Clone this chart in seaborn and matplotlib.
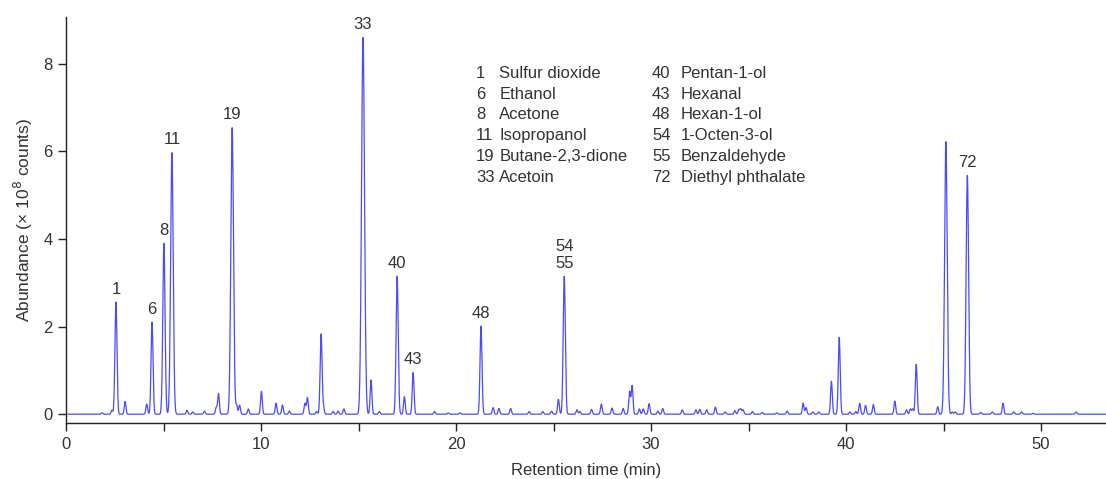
import numpy as np
import pandas as pd
import matplotlib
matplotlib.use("Agg")
import matplotlib.pyplot as plt
from matplotlib.ticker import MultipleLocator
import seaborn as sns

# Peak table of the chromatogram: retention time (min) and apex abundance (x 10^8 counts)
peak_times = [
    1.85, 2.35, 2.56, 3.03, 4.14, 4.41, 5.02, 5.43, 6.2, 6.5, 7.1, 7.7, 7.82,
    8.52, 8.75, 8.9, 9.35, 10.02, 10.77, 11.1, 11.45, 12.25, 12.38, 12.85,
    13.08, 13.2, 13.7, 13.95, 14.25, 15.23, 15.64, 16.07, 16.98, 17.35, 17.8,
    18.9, 19.6, 20.2, 21.28, 21.9, 22.2, 22.8, 23.75, 24.45, 24.9, 25.25,
    25.55, 26.2, 26.35, 26.95, 27.45, 28.0, 28.57, 28.9, 29.03, 29.4, 29.6,
    29.9, 30.35, 30.6, 31.6, 32.3, 32.5, 32.85, 33.3, 33.8, 34.3, 34.5, 34.6,
    34.72, 35.2, 35.7, 36.45, 36.98, 37.8, 37.95, 38.3, 38.6, 39.25, 39.65,
    40.2, 40.5, 40.7, 41.0, 41.4, 42.5, 43.1, 43.3, 43.42, 43.6, 44.7, 45.12,
    45.45, 45.6, 46.22, 46.9, 47.5, 48.05, 48.6, 49.0, 49.6, 51.8,
]
peak_heights = [
    0.03, 0.09, 2.56, 0.29, 0.23, 2.1, 3.9, 5.97, 0.09, 0.05, 0.07, 0.15, 0.47,
    6.54, 0.2, 0.21, 0.12, 0.52, 0.25, 0.21, 0.07, 0.25, 0.38, 0.06,
    1.83, 0.15, 0.06, 0.07, 0.12, 8.6, 0.78, 0.06, 3.15, 0.4, 0.95,
    0.06, 0.03, 0.03, 2.01, 0.15, 0.13, 0.13, 0.06, 0.06, 0.07, 0.34,
    3.15, 0.1, 0.06, 0.11, 0.23, 0.14, 0.13, 0.52, 0.65, 0.12, 0.12,
    0.24, 0.07, 0.13, 0.1, 0.1, 0.11, 0.1, 0.16, 0.05, 0.08, 0.1, 0.12,
    0.1, 0.06, 0.04, 0.03, 0.07, 0.25, 0.15, 0.05, 0.05, 0.75, 1.75,
    0.05, 0.06, 0.25, 0.2, 0.22, 0.3, 0.1, 0.12, 0.12, 1.14, 0.17, 6.22,
    0.05, 0.05, 5.45, 0.04, 0.05, 0.25, 0.05, 0.05, 0.02, 0.05,
]

# Identified compounds: peak number, labelled retention time and apex height
label_numbers = ["1", "6", "8", "11", "19", "33", "40", "43", "48", "54\n55", "72"]
label_times = [2.56, 4.41, 5.02, 5.43, 8.52, 15.23, 16.98, 17.8, 21.28, 25.55, 46.22]
label_heights = [2.56, 2.1, 3.9, 5.97, 6.54, 8.6, 3.15, 0.95, 2.01, 3.15, 5.45]

key_numbers_left = ["1", "6", "8", "11", "19", "33"]
key_names_left = ["Sulfur dioxide", "Ethanol", "Acetone", "Isopropanol",
                  "Butane-2,3-dione", "Acetoin"]
key_numbers_right = ["40", "43", "48", "54", "55", "72"]
key_names_right = ["Pentan-1-ol", "Hexanal", "Hexan-1-ol", "1-Octen-3-ol",
                   "Benzaldehyde", "Diethyl phthalate"]

# Build the detector trace as a sum of narrow Gaussian peaks
t = np.arange(0.1, 53.5, 0.01)
signal = np.zeros_like(t)
for rt, h in zip(peak_times, peak_heights):
    sigma = 0.042 + 0.004 * h
    signal += h * np.exp(-0.5 * ((t - rt) / sigma) ** 2)
trace = pd.DataFrame({"time": t, "abundance": signal})

sns.set_theme(style="ticks")
text_color = "#333333"
plt.rcParams["font.family"] = ["Liberation Sans", "DejaVu Sans"]
plt.rcParams["text.color"] = text_color
plt.rcParams["axes.labelcolor"] = text_color
plt.rcParams["xtick.color"] = "#222222"
plt.rcParams["ytick.color"] = "#222222"
plt.rcParams["xtick.labelcolor"] = text_color
plt.rcParams["ytick.labelcolor"] = text_color

fs = 12
fig = plt.figure(figsize=(11.06, 4.79), dpi=100)
ax = fig.add_axes([0.0597, 0.117, 0.9403, 0.8476])

sns.lineplot(data=trace, x="time", y="abundance", ax=ax, color="#2a2aff",
             linewidth=0.9, alpha=0.85)

ax.set_xlim(0, 53.33)
ax.set_ylim(-0.2, 9.07)
ax.xaxis.set_major_locator(MultipleLocator(10))
ax.xaxis.set_minor_locator(MultipleLocator(5))
ax.yaxis.set_major_locator(MultipleLocator(2))
ax.tick_params(axis="both", which="both", direction="out", length=6, width=1,
               labelsize=fs)
ax.tick_params(axis="x", which="both", pad=4)
sns.despine(ax=ax)
for side in ("left", "bottom"):
    ax.spines[side].set_linewidth(1.0)
    ax.spines[side].set_color("#222222")

ax.set_xlabel("Retention time (min)", fontsize=12, labelpad=8)
ax.set_ylabel("Abundance (× 10$^8$ counts)", fontsize=12.5, labelpad=6)

# Peak numbers above the labelled apexes
for num, rt, h in zip(label_numbers, label_times, label_heights):
    ax.annotate(num, xy=(rt, h), xytext=(0, 4), textcoords="offset points",
                ha="center", va="bottom", fontsize=fs, color=text_color,
                linespacing=1.1)

# Compound key in two columns
row_gap = 0.0435
top = 0.847
for i in range(6):
    y = top - i * row_gap
    fig.text(0.4304, y, key_numbers_left[i], fontsize=fs, va="center", ha="left")
    fig.text(0.4515, y, key_names_left[i], fontsize=fs, va="center", ha="left")
    fig.text(0.5895, y, key_numbers_right[i], fontsize=fs, va="center", ha="left")
    fig.text(0.6155, y, key_names_right[i], fontsize=fs, va="center", ha="left")

fig.savefig("out.png", dpi=100)
